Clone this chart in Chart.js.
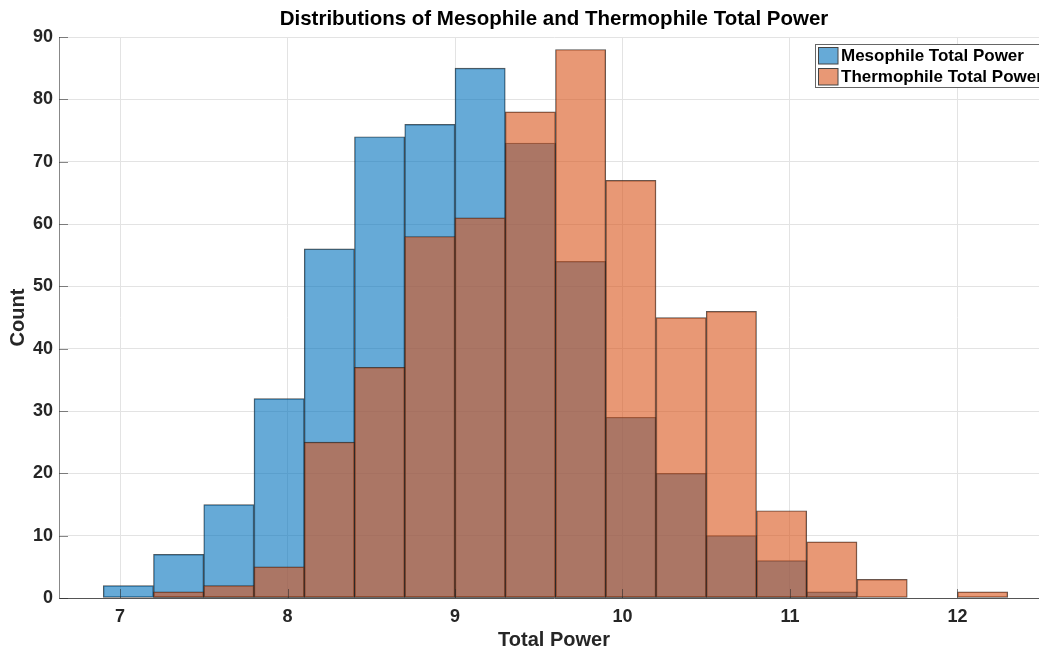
<!DOCTYPE html>
<html><head><meta charset="utf-8">
<script src="https://cdn.jsdelivr.net/npm/chart.js@4.4.1/dist/chart.umd.min.js"></script>
<style>html,body{margin:0;padding:0;background:#fff;overflow:hidden}#wrap{width:1039px;height:649px;position:relative;overflow:hidden}</style>
</head><body><div id="wrap"><canvas id="c" width="1049" height="649"></canvas></div>
<script>
// Histogram bins (bin width 0.3, first edge 6.9)
const binCenters = [7.05, 7.35, 7.65, 7.95, 8.25, 8.55, 8.85, 9.15, 9.45, 9.75, 10.05, 10.35, 10.65, 10.95, 11.25, 11.55, 11.85, 12.15];
const mesophileCounts   = [2, 7, 15, 32, 56, 74, 76, 85, 73, 54, 29, 20, 10, 6, 1, 0, 0, 0];
const thermophileCounts = [0, 1, 2, 5, 25, 37, 58, 61, 78, 88, 67, 45, 46, 14, 9, 3, 0, 1];
const xTickValues = [7, 8, 9, 10, 11, 12];
const yTickValues = [0, 10, 20, 30, 40, 50, 60, 70, 80, 90];
const seriesLabels = ['Mesophile Total Power', 'Thermophile Total Power'];
const chartTitle = 'Distributions of Mesophile and Thermophile Total Power';

const FONT = "'Liberation Sans', Arial, Helvetica, sans-serif";
const toPoints = (vals) => binCenters.map((x, i) => ({ x: x, y: vals[i] }));

// centre the title over the plot area (as the original does)
const titleOverPlot = {
  id: 'titleOverPlot',
  afterLayout(chart) {
    const t = chart.titleBlock;
    if (t) { t.left = chart.chartArea.left; t.right = chart.chartArea.right; t.width = t.right - t.left; }
  }
};

const insideTicks = {
  id: 'insideTicks',
  afterDatasetsDraw(chart) {
    const { ctx, chartArea: a, scales: { x, y } } = chart;
    ctx.save();
    ctx.strokeStyle = 'rgba(38,38,38,0.55)';
    ctx.lineWidth = 1;
    ctx.beginPath();
    yTickValues.forEach(v => { const py = Math.round(y.getPixelForValue(v)) + 0.5; ctx.moveTo(a.left, py); ctx.lineTo(a.left + 9, py); });
    xTickValues.forEach(v => { const px = Math.round(x.getPixelForValue(v)) + 0.5; ctx.moveTo(px, a.bottom); ctx.lineTo(px, a.bottom - 9); });
    ctx.stroke();
    ctx.restore();
  }
};

const boxLegend = {
  id: 'boxLegend',
  afterDraw(chart) {
    const ctx = chart.ctx;
    const ds = chart.data.datasets;
    const bx = 815.5, by = 44.5, bw = 260, bh = 43;
    ctx.save();
    ctx.fillStyle = '#ffffff';
    ctx.fillRect(bx, by, bw, bh);
    ctx.strokeStyle = '#666';
    ctx.lineWidth = 1;
    ctx.strokeRect(bx, by, bw, bh);
    ctx.font = 'bold 17px ' + FONT;
    ctx.textBaseline = 'middle';
    ctx.textAlign = 'left';
    const rows = [55.5, 76.5];
    ds.forEach((d, i) => {
      const cy = rows[i];
      ctx.fillStyle = d.backgroundColor;
      ctx.fillRect(818, cy - 8.5, 20, 17);
      ctx.strokeStyle = '#444';
      ctx.strokeRect(818.5, cy - 8, 19.5, 16.5);
      ctx.fillStyle = '#000';
      ctx.fillText(seriesLabels[i], 841, cy + 0.5);
    });
    ctx.restore();
  }
};

new Chart(document.getElementById('c'), {
  type: 'bar',
  data: {
    datasets: [
      { label: seriesLabels[0], data: toPoints(mesophileCounts), backgroundColor: 'rgba(0,114,189,0.6)', borderColor: 'rgba(30,30,30,0.75)', borderWidth: 0.8, borderSkipped: false, grouped: false, barPercentage: 1, categoryPercentage: 1, order: 2 },
      { label: seriesLabels[1], data: toPoints(thermophileCounts), backgroundColor: 'rgba(217,83,25,0.6)', borderColor: 'rgba(30,30,30,0.75)', borderWidth: 0.8, borderSkipped: false, grouped: false, barPercentage: 1, categoryPercentage: 1, order: 1 }
    ]
  },
  options: {
    responsive: false,
    animation: false,
    devicePixelRatio: 1,
    layout: { padding: 0 },
    plugins: {
      legend: { display: false },
      tooltip: { enabled: false },
      title: { display: true, text: chartTitle, color: '#000', font: { family: FONT, size: 20.5, weight: 'bold', lineHeight: 1.2 }, padding: { top: 7.5, bottom: 4.9 } }
    },
    scales: {
      x: {
        type: 'linear', min: 6.6358, max: 12.5463, offset: false,
        afterBuildTicks: s => { s.ticks = xTickValues.map(v => ({ value: v })); },
        ticks: { font: { family: FONT, size: 18, weight: 'bold' }, color: '#262626', padding: 8, maxRotation: 0, autoSkip: false },
        grid: { color: '#e3e3e3', drawTicks: false, offset: false },
        border: { display: true, color: '#555' },
        title: { display: true, text: 'Total Power', color: '#262626', font: { family: FONT, size: 20, weight: 'bold', lineHeight: 0.9 }, padding: { top: 0, bottom: 0 } },
        afterFit: s => { s.height = 51; }
      },
      y: {
        type: 'linear', min: 0, max: 90,
        afterBuildTicks: s => { s.ticks = yTickValues.map(v => ({ value: v })); },
        ticks: { font: { family: FONT, size: 18, weight: 'bold' }, color: '#262626', padding: 6 },
        grid: { color: '#e3e3e3', drawTicks: false },
        border: { display: true, color: '#888' },
        title: { display: true, text: 'Count', color: '#262626', font: { family: FONT, size: 20, weight: 'bold', lineHeight: 1.2 }, padding: { top: 6, bottom: 0 } },
        afterFit: s => { s.width = 59; }
      }
    }
  },
  plugins: [titleOverPlot, insideTicks, boxLegend]
});
</script>
</body></html>
